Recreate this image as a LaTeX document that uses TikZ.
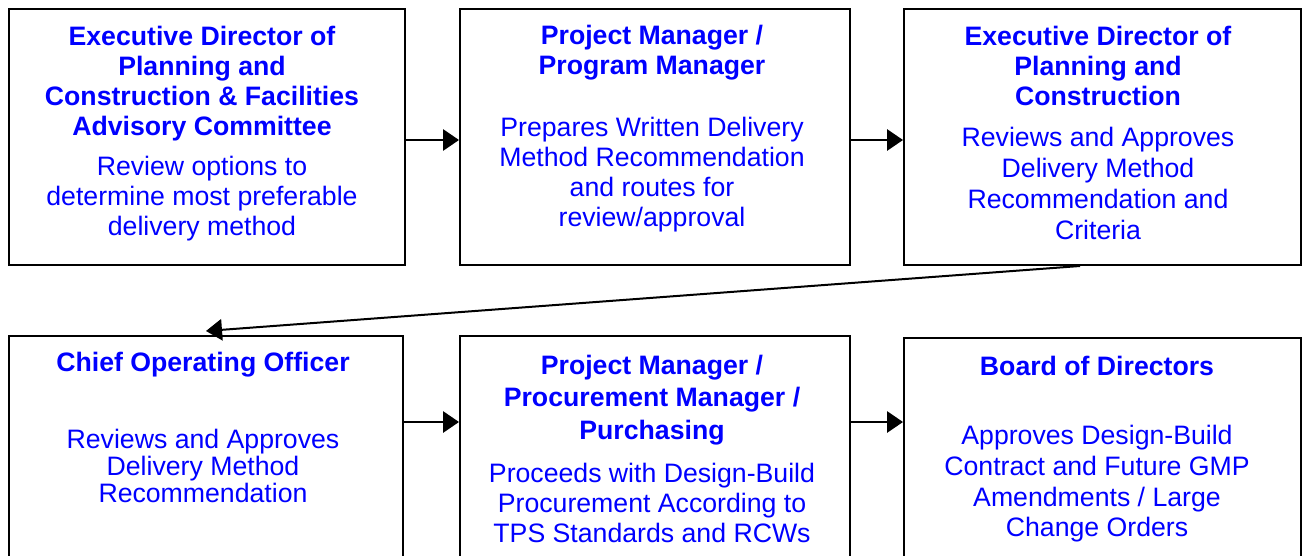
\documentclass[tikz,border=0pt]{standalone}
\usepackage{fontspec}
\setmainfont{Liberation Sans}
\usetikzlibrary{arrows.meta}
\definecolor{txtblue}{RGB}{0,0,255}
\tikzset{every picture/.style={line width=0.75pt}}

\begin{document}
\begin{tikzpicture}[x=0.75pt,y=0.75pt,yscale=-1,xscale=1,
		box/.style={draw, line width=1.5pt, inner sep=0pt},
		title/.style={text=txtblue, font=\fontsize{20}{22.5}\selectfont\bfseries, align=center},
		body/.style={text=txtblue, font=\fontsize{20}{22.5}\selectfont, align=center},
		arr/.style={-{Triangle[length=12pt,width=16pt]}, line width=1.5pt}]
			\useasboundingbox (0,0) rectangle (1302,556);
			%Shape: Rectangle top row
			\node[box, minimum width=297pt, minimum height=192pt] (ed1) at (207,137) {};
			\node[box, minimum width=292.5pt, minimum height=192pt] (pm1) at (655,137) {};
			\node[box, minimum width=297.75pt, minimum height=192pt] (ed2) at (1102.5,137) {};
			%Shape: Rectangle bottom row
			\node[box, minimum width=295.5pt, minimum height=168pt] (coo) at (206,448) {};
			\node[box, minimum width=292.5pt, minimum height=168pt] (pm2) at (655,448) {};
			\node[box, minimum width=297.75pt, minimum height=166.5pt] (bod) at (1102.5,449) {};

			% Text Node
			\node[title] (ed1t) at (202,84) {Executive Director of\\Planning and\\Construction \& Facilities\\Advisory Committee};
			\node[body] (ed1b) at (202,199) {Review options to\\determine most preferable\\delivery method};
			% Text Node
			\node[title] (pm1t) at (652,53) {Project Manager /\\Program Manager};
			\node[body] (pm1b) at (652,175) {Prepares Written Delivery\\Method Recommendation\\and routes for\\review/approval};
			% Text Node
			\node[title] (ed2t) at (1098,66) {Executive Director of\\Planning and\\Construction};
			\node[body, font=\fontsize{20}{23.25}\selectfont] (ed2b) at (1098,183) {Reviews and Approves\\Delivery Method\\Recommendation and\\Criteria};
			% Text Node
			\node[title] (coot) at (203,365) {Chief Operating Officer};
			\node[body, font=\fontsize{20}{20.25}\selectfont] (coob) at (203,466) {Reviews and Approves\\Delivery Method\\Recommendation};
			% Text Node
			\node[title, font=\fontsize{20}{24.4}\selectfont\bfseries] (pm2t) at (652,400) {Project Manager /\\Procurement Manager /\\Purchasing};
			\node[body] (pm2b) at (652,503) {Proceeds with Design-Build\\Procurement According to\\TPS Standards and RCWs};
			% Text Node
			\node[title] (bodt) at (1097,366) {Board of Directors};
			\node[body, font=\fontsize{20}{23}\selectfont] (bodb) at (1097,484) {Approves Design-Build\\Contract and Future GMP\\Amendments / Large\\Change Orders};

			%Straight Lines
			\coordinate (rowa) at (0,140);
			\coordinate (rowb) at (0,422);
			\coordinate (colc) at (1080,0);
			\coordinate (cood) at (206,331);
			\draw[arr] (ed1.east |- rowa) -- (pm1.west |- rowa);
			\draw[arr] (pm1.east |- rowa) -- (ed2.west |- rowa);
			\draw[arr] (ed2.south -| colc) -- (cood);
			\draw[arr] (coo.east |- rowb) -- (pm2.west |- rowb);
			\draw[arr] (pm2.east |- rowb) -- (bod.west |- rowb);

		\end{tikzpicture}
\end{document}
